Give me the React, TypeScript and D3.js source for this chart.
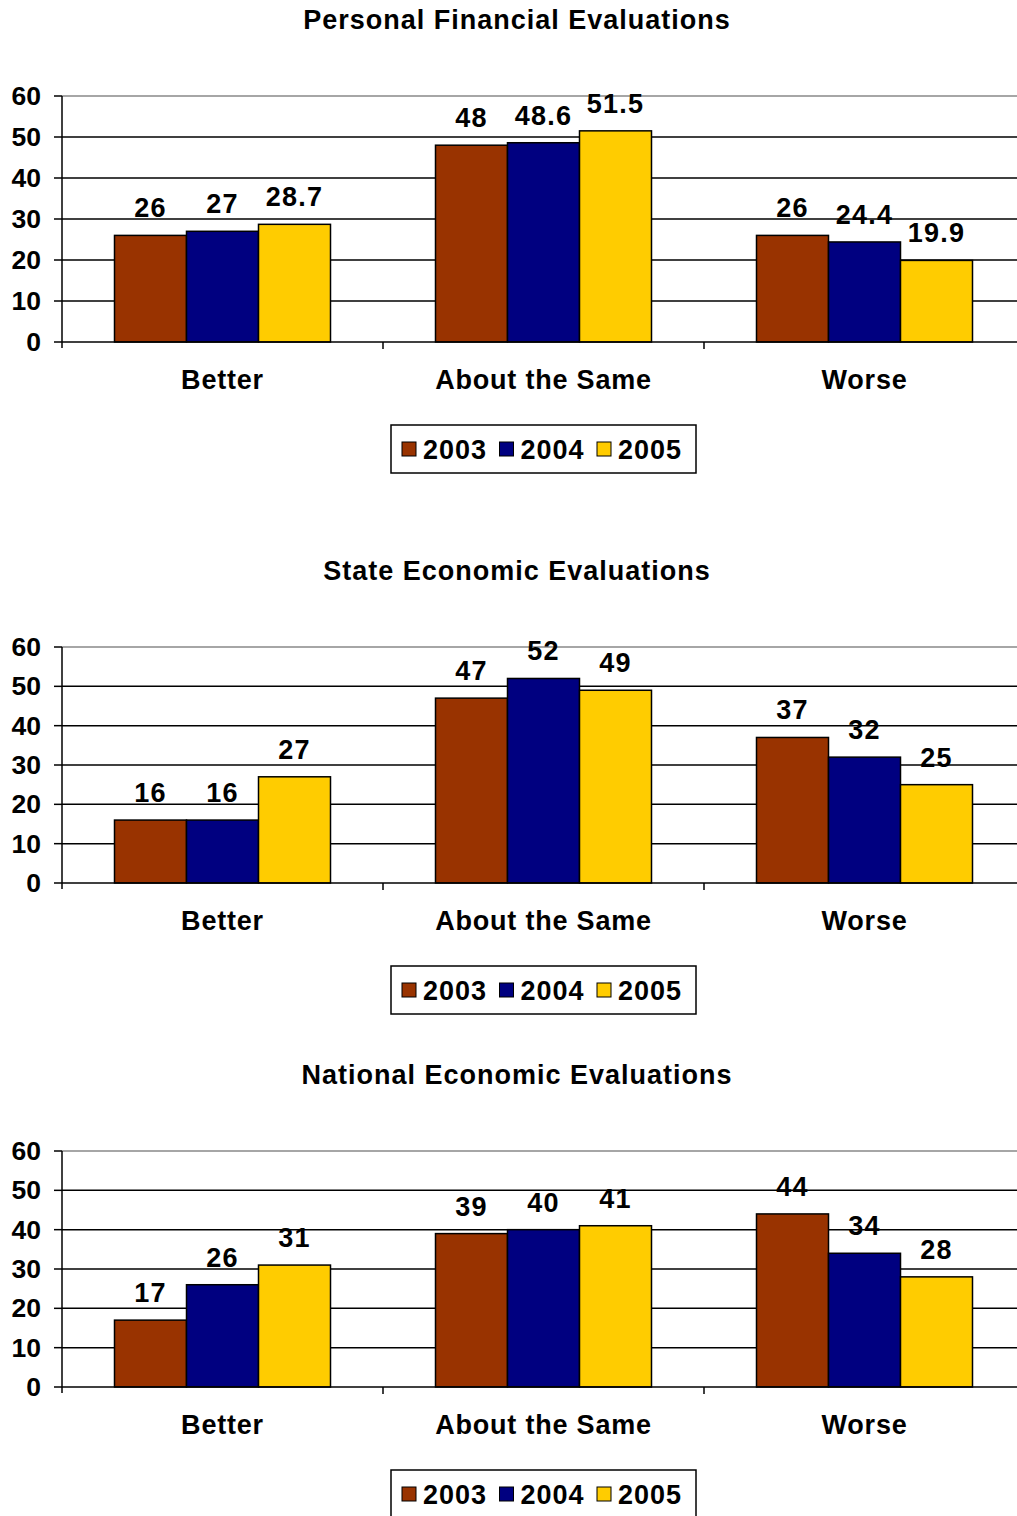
import React from "react";
import * as d3 from "d3";

const categories = ["Better", "About the Same", "Worse"];
const years = ["2003", "2004", "2005"];
const colors = ["#993300", "#000080", "#FFCC00"];
const yTicks = [0, 10, 20, 30, 40, 50, 60];

const personalTitle = "Personal Financial Evaluations";
const personal2003 = [26, 48, 26];
const personal2004 = [27, 48.6, 24.4];
const personal2005 = [28.7, 51.5, 19.9];

const stateTitle = "State Economic Evaluations";
const state2003 = [16, 47, 37];
const state2004 = [16, 52, 32];
const state2005 = [27, 49, 25];

const nationalTitle = "National Economic Evaluations";
const national2003 = [17, 39, 44];
const national2004 = [26, 40, 34];
const national2005 = [31, 41, 28];

const FONT = "'Liberation Sans', Arial, Helvetica, sans-serif";

type ChartProps = {
  title: string;
  series: number[][];
  plotTop: number;
  plotBottom: number;
};

function Chart({ title, series, plotTop, plotBottom }: ChartProps) {
  const left = 62;
  const right = 1025;
  const x = d3.scaleBand<string>().domain(categories).range([left, right]);
  const y = d3.scaleLinear().domain([0, 60]).range([plotBottom, plotTop]);
  const barW = 72;
  const groupW = barW * years.length;
  return (
    <g>
      <text
        x={517}
        y={plotTop - 67}
        textAnchor="middle"
        fontFamily={FONT}
        fontWeight="bold"
        fontSize={27}
        letterSpacing={1}
      >
        {title}
      </text>
      {yTicks.map((t) => (
        <g key={t}>
          {t > 0 && (
            <line
              x1={left}
              x2={right}
              y1={y(t)}
              y2={y(t)}
              stroke={t === 60 ? "#888" : "#000"}
              strokeWidth={1.5}
            />
          )}
          <line x1={left - 8} x2={left} y1={y(t)} y2={y(t)} stroke="#000" strokeWidth={1.5} />
          <text
            x={41}
            y={y(t) + 9}
            textAnchor="end"
            fontFamily={FONT}
            fontWeight="bold"
            fontSize={26.5}
          >
            {t}
          </text>
        </g>
      ))}
      {categories.map((c, ci) => {
        const x0 = (x(c) as number) + (x.bandwidth() - groupW) / 2;
        return (
          <g key={c}>
            {series.map((s, si) => {
              const v = s[ci];
              const bx = x0 + si * barW;
              return (
                <g key={si}>
                  <rect
                    x={bx}
                    y={y(v)}
                    width={barW}
                    height={y(0) - y(v)}
                    fill={colors[si]}
                    stroke="#000"
                    strokeWidth={1.5}
                  />
                  <text
                    x={bx + barW / 2}
                    y={y(v) - 18}
                    textAnchor="middle"
                    fontFamily={FONT}
                    fontWeight="bold"
                    fontSize={27}
                    letterSpacing={1.2}
                  >
                    {v}
                  </text>
                </g>
              );
            })}
            <text
              x={(x(c) as number) + x.bandwidth() / 2}
              y={plotBottom + 47}
              textAnchor="middle"
              fontFamily={FONT}
              fontWeight="bold"
              fontSize={27}
              letterSpacing={0.8}
            >
              {c}
            </text>
          </g>
        );
      })}
      <line x1={left} x2={right} y1={y(0)} y2={y(0)} stroke="#000" strokeWidth={1.5} />
      <line x1={left} x2={left} y1={plotTop} y2={plotBottom + 6} stroke="#000" strokeWidth={1.5} />
      {categories.slice(1).map((c) => (
        <line
          key={c}
          x1={x(c) as number}
          x2={x(c) as number}
          y1={plotBottom}
          y2={plotBottom + 7}
          stroke="#000"
          strokeWidth={1.5}
        />
      ))}
      <g transform={`translate(391,${plotBottom + 83})`}>
        <rect x={0} y={0} width={305} height={48} fill="#fff" stroke="#000" strokeWidth={1.5} />
        {years.map((yr, i) => {
          const lx = 11 + i * 97.5;
          return (
            <g key={yr}>
              <rect x={lx} y={17} width={14} height={14} fill={colors[i]} stroke="#000" strokeWidth={1} />
              <text
                x={lx + 21}
                y={33.5}
                fontFamily={FONT}
                fontWeight="bold"
                fontSize={27}
                letterSpacing={1}
              >
                {yr}
              </text>
            </g>
          );
        })}
      </g>
    </g>
  );
}

export default function App() {
  return (
    <div style={{ position: "absolute", left: 0, top: 0 }}>
      <svg width={1017} height={1516} style={{ display: "block" }}>
        <rect width={1017} height={1516} fill="#fff" />
        <Chart
          title={personalTitle}
          series={[personal2003, personal2004, personal2005]}
          plotTop={96}
          plotBottom={342}
        />
        <Chart
          title={stateTitle}
          series={[state2003, state2004, state2005]}
          plotTop={647}
          plotBottom={883}
        />
        <Chart
          title={nationalTitle}
          series={[national2003, national2004, national2005]}
          plotTop={1151}
          plotBottom={1387}
        />
      </svg>
    </div>
  );
}
